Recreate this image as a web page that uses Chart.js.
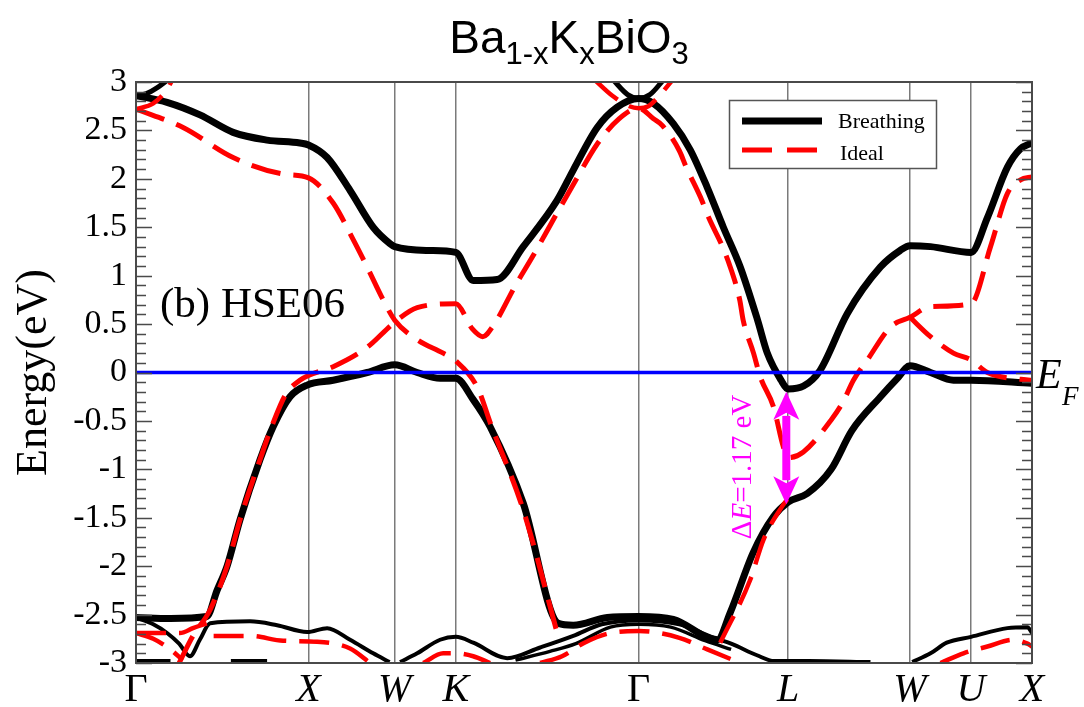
<!DOCTYPE html>
<html>
<head>
<meta charset="utf-8">
<script src="https://cdn.jsdelivr.net/npm/chart.js@4.4.1/dist/chart.umd.min.js"></script>
<style>
  html, body { margin: 0; padding: 0; background: #fff; }
  #wrap { width: 1084px; height: 707px; }
</style>
</head>
<body>
<div id="wrap"><canvas id="bands" width="1084" height="707"></canvas></div>
<script>
// ─── Path & axis labels ───────────────────────────────
const kPoints = [0, 1, 1.5, 1.8536, 2.9142, 3.7802, 4.4873, 4.8409, 5.1944];
const kLabels = ["Γ", "X", "W", "K", "Γ", "L", "W", "U", "X"];
const energyTicks = [-3, -2.5, -2, -1.5, -1, -0.5, 0, 0.5, 1, 1.5, 2, 2.5, 3];
const energyLabels = ["-3", "-2.5", "-2", "-1.5", "-1", "-0.5", "0", "0.5", "1", "1.5", "2", "2.5", "3"];

// ─── Breathing bands [k, E] ───────────────────────────
const breathingCond = [[0,2.86],[0.18,2.79],[0.371,2.66],[0.563,2.48],[0.76,2.40],[0.95,2.37],[1.0,2.35],[1.108,2.22],[1.241,1.88],[1.375,1.5],[1.473,1.33],[1.5,1.30],[1.7,1.26],[1.854,1.24],[1.955,0.95],[2.094,0.96],[2.245,1.3],[2.442,1.78],[2.535,2.09],[2.674,2.53],[2.79,2.74],[2.914,2.83],[2.999,2.78],[3.115,2.57],[3.213,2.3],[3.312,1.91],[3.405,1.5],[3.503,1.09],[3.602,0.55],[3.66,0.2],[3.74,-0.08],[3.78,-0.17],[3.87,-0.14],[3.965,0.02],[4.124,0.61],[4.316,1.09],[4.43,1.26],[4.487,1.31],[4.606,1.30],[4.841,1.24],[4.936,1.60],[5.052,2.12],[5.128,2.31],[5.194,2.37]];
const breathingTop = [[0,-2.53],[0.2,-2.54],[0.41,-2.52],[0.47,-2.25],[0.528,-2.0],[0.603,-1.52],[0.719,-0.9],[0.795,-0.56],[0.893,-0.25],[0.992,-0.13],[1.143,-0.08],[1.34,0.0],[1.5,0.08],[1.63,0.0],[1.763,-0.06],[1.854,-0.06],[1.955,-0.28],[2.053,-0.56],[2.245,-1.35],[2.448,-2.59],[2.535,-2.61],[2.732,-2.53],[2.914,-2.52],[3.115,-2.55],[3.37,-2.76],[3.445,-2.48],[3.578,-1.86],[3.695,-1.49],[3.78,-1.34],[3.892,-1.25],[4.03,-1.0],[4.15,-0.6],[4.316,-0.25],[4.414,-0.06],[4.487,0.07],[4.606,0.0],[4.739,-0.08],[4.841,-0.08],[5.194,-0.11]];
const breathingUp1 = [[0,2.86],[0.06,2.88],[0.13,2.95],[0.19,3.03]];
const breathingUp2 = [[2.767,3.02],[2.85,2.87],[2.914,2.83],[2.98,2.87],[3.057,3.02]];
const breathingLow1 = [[0,-2.53],[0.1,-2.6],[0.18,-2.69],[0.25,-2.8],[0.313,-2.93],[0.37,-2.76],[0.43,-2.59],[0.661,-2.57],[0.818,-2.61],[0.992,-2.68],[1.108,-2.64],[1.241,-2.76],[1.375,-2.9],[1.47,-2.99]];
const breathingLow2 = [[1.531,-2.99],[1.63,-2.9],[1.763,-2.76],[1.854,-2.73],[1.955,-2.79],[2.152,-2.95],[2.343,-2.84],[2.535,-2.72],[2.7,-2.6],[2.914,-2.56],[3.15,-2.6],[3.35,-2.74],[3.45,-2.8],[3.6,-2.92],[3.7,-2.98],[3.9,-2.98],[4.258,-2.99]];
const breathingLow3 = [[2.2,-2.97],[2.4,-2.88],[2.55,-2.8],[2.75,-2.63],[2.914,-2.6],[3.1,-2.63],[3.3,-2.77],[3.45,-2.86]];
const breathingLow4 = [[4.5,-2.99],[4.606,-2.9],[4.7,-2.79],[4.841,-2.73],[5.052,-2.64],[5.168,-2.63],[5.194,-2.69]];
const breathingFloor1 = [[0,-2.98],[0.2,-2.98]];
const breathingFloor2 = [[0.55,-2.98],[0.76,-2.98]];

// ─── Ideal bands [k, E] ───────────────────────────────
const idealCond = [[0,2.72],[0.273,2.53],[0.563,2.22],[0.853,2.05],[1.0,2.01],[1.143,1.75],[1.26,1.37],[1.34,1.09],[1.433,0.75],[1.5,0.54],[1.63,0.34],[1.781,0.2],[1.854,0.12],[1.978,-0.15],[2.06,-0.55],[2.245,-1.42],[2.448,-2.73]];
const idealBand = [[0.25,-3.0],[0.33,-2.72],[0.43,-2.45],[0.528,-2.0],[0.603,-1.52],[0.719,-0.9],[0.795,-0.52],[0.87,-0.22],[0.95,-0.08],[1.0,-0.03],[1.143,0.06],[1.34,0.26],[1.5,0.52],[1.63,0.67],[1.854,0.71],[1.95,0.45],[2.01,0.37],[2.07,0.48],[2.2,0.9],[2.3,1.2],[2.442,1.65],[2.56,2.02],[2.67,2.35],[2.8,2.62],[2.914,2.73],[3.0,2.62],[3.052,2.55],[3.15,2.29],[3.19,2.12],[3.28,1.78],[3.32,1.6],[3.4,1.3],[3.445,1.09],[3.5,0.75],[3.52,0.54],[3.58,0.2],[3.62,-0.05],[3.695,-0.35],[3.753,-0.77],[3.78,-0.88],[3.869,-0.82],[4.03,-0.49],[4.1,-0.3],[4.159,-0.08],[4.24,0.13],[4.374,0.47],[4.487,0.57],[4.606,0.68],[4.841,0.71],[4.954,1.3],[5.052,1.85],[5.128,1.99],[5.194,2.02]];
const idealW = [[4.487,0.57],[4.606,0.37],[4.739,0.2],[4.841,0.13],[4.936,0.0],[5.128,-0.07],[5.194,-0.08]];
const idealRise = [[3.387,-2.79],[3.561,-2.14],[3.637,-1.73],[3.747,-1.38],[3.78,-1.3]];
const idealHump = [[2.343,-3.0],[2.47,-2.93],[2.6,-2.79],[2.75,-2.69],[2.914,-2.67],[3.15,-2.74],[3.312,-2.86],[3.503,-3.0]];
const idealUp1 = [[0,2.72],[0.1,2.78],[0.17,2.9],[0.22,3.05]];
const idealUp2 = [[2.66,3.02],[2.76,2.86],[2.86,2.75],[2.914,2.73],[2.97,2.75],[3.03,2.85],[3.11,3.02]];
const idealLow1 = [[0,-2.69],[0.15,-2.69],[0.255,-2.69],[0.33,-2.64],[0.41,-2.59]];
const idealLow2 = [[0,-2.69],[0.1,-2.75],[0.2,-2.86],[0.27,-2.97]];
const idealLow3 = [[0.45,-2.72],[0.66,-2.72],[0.853,-2.77],[1.05,-2.78],[1.241,-2.85],[1.357,-3.0]];
const idealLow4 = [[1.665,-3.0],[1.781,-2.9],[1.854,-2.9],[1.955,-2.93],[2.053,-3.0]];
const idealLow5 = [[4.664,-3.0],[4.797,-2.9],[4.936,-2.83],[5.087,-2.76],[5.168,-2.8],[5.194,-2.83]];

// ─── Fermi level & gap marker ─────────────────────────
const fermiLevel = [[0,0],[5.1944,0]];
const gapK = 3.77;
const gapTop = -0.2;
const gapBottom = -1.36;
const gapLabel = "=1.17 eV";

const SERIF = "'Liberation Serif', 'Times New Roman', serif";
const SANS = "'Liberation Sans', Arial, sans-serif";

function band(points, color, width, dashed) {
  return {
    data: points.map(p => ({ x: p[0], y: p[1] })),
    showLine: true,
    borderColor: color,
    borderWidth: width,
    borderDash: dashed ? [30, 13] : [],
    borderCapStyle: "butt",
    pointRadius: 0,
    fill: false,
    cubicInterpolationMode: "monotone",
  };
}

// first dataset ends up on top
const datasets = [
  band(fermiLevel, "#0000ff", 3.5, false),
  band(idealCond, "#ff0000", 5, true),
  band(idealBand, "#ff0000", 5, true),
  band(idealW, "#ff0000", 5, true),
  band(idealRise, "#ff0000", 4.5, true),
  band(idealHump, "#ff0000", 4.5, true),
  band(idealUp1, "#ff0000", 4.5, true),
  band(idealUp2, "#ff0000", 4.5, true),
  band(idealLow1, "#ff0000", 4.5, true),
  band(idealLow2, "#ff0000", 4.5, true),
  band(idealLow3, "#ff0000", 4.5, true),
  band(idealLow4, "#ff0000", 4.5, true),
  band(idealLow5, "#ff0000", 4.5, true),
  band(breathingCond, "#000", 7, false),
  band(breathingTop, "#000", 7, false),
  band(breathingUp1, "#000", 5, false),
  band(breathingUp2, "#000", 5, false),
  band(breathingLow1, "#000", 4, false),
  band(breathingLow2, "#000", 4, false),
  band(breathingLow3, "#000", 3.5, false),
  band(breathingLow4, "#000", 4, false),
  band(breathingFloor1, "#000", 4, false),
  band(breathingFloor2, "#000", 4, false),
];

// ─── Extras: frame, inward ticks, legend, labels ──────
const decorations = {
  id: "decorations",
  afterDatasetsDraw(chart) {
    const { ctx, chartArea: a, scales } = chart;
    const y = scales.y;
    const x = scales.x;
    ctx.save();

    // frame + inward minor/major ticks on both sides
    ctx.strokeStyle = "#4a4a4a";
    ctx.lineWidth = 1.6;
    ctx.beginPath();
    for (let i = -30; i <= 30; i++) {
      const py = Math.round(y.getPixelForValue(i / 10)) + 0.5;
      const len = i % 5 === 0 ? 16 : 10;
      ctx.moveTo(a.left, py); ctx.lineTo(a.left + len, py);
      ctx.moveTo(a.right, py); ctx.lineTo(a.right - len, py);
    }
    ctx.stroke();
    ctx.lineWidth = 2;
    ctx.strokeRect(a.left, a.top, a.right - a.left, a.bottom - a.top);

    // gap arrow
    const ax = x.getPixelForValue(gapK);
    const y1 = y.getPixelForValue(gapTop);
    const y2 = y.getPixelForValue(gapBottom);
    const headH = 28, headW = 13;
    ctx.fillStyle = "#ff00ff";
    ctx.strokeStyle = "#ff00ff";
    ctx.lineWidth = 8;
    ctx.beginPath();
    ctx.moveTo(ax, y1 + headH - 4); ctx.lineTo(ax, y2 - headH + 4);
    ctx.stroke();
    ctx.beginPath();
    ctx.moveTo(ax, y1); ctx.lineTo(ax + headW, y1 + headH); ctx.lineTo(ax, y1 + headH - 7); ctx.lineTo(ax - headW, y1 + headH);
    ctx.closePath(); ctx.fill();
    ctx.beginPath();
    ctx.moveTo(ax, y2); ctx.lineTo(ax + headW, y2 - headH); ctx.lineTo(ax, y2 - headH + 7); ctx.lineTo(ax - headW, y2 - headH);
    ctx.closePath(); ctx.fill();

    // ΔE label, rotated
    ctx.save();
    ctx.translate(ax - 35, y2 + 35);
    ctx.rotate(-Math.PI / 2);
    ctx.textBaseline = "alphabetic";
    ctx.textAlign = "left";
    let tx = 0;
    ctx.font = "29px " + SERIF;
    ctx.fillText("Δ", tx, 0); tx += ctx.measureText("Δ").width;
    ctx.font = "italic 29px " + SERIF;
    ctx.fillText("E", tx, 0); tx += ctx.measureText("E").width;
    ctx.font = "29px " + SERIF;
    ctx.fillText(gapLabel, tx, 0);
    ctx.restore();

    // legend
    ctx.fillStyle = "#fff";
    ctx.fillRect(729, 100, 207, 68);
    ctx.strokeStyle = "#555";
    ctx.lineWidth = 1.5;
    ctx.strokeRect(729.5, 100.5, 207, 68);
    ctx.lineWidth = 7;
    ctx.strokeStyle = "#000";
    ctx.beginPath(); ctx.moveTo(742, 121); ctx.lineTo(822, 121); ctx.stroke();
    ctx.strokeStyle = "#ff0000";
    ctx.lineWidth = 5;
    ctx.setLineDash([30, 15]);
    ctx.beginPath(); ctx.moveTo(742, 150); ctx.lineTo(822, 150); ctx.stroke();
    ctx.setLineDash([]);
    ctx.fillStyle = "#000";
    ctx.font = "22px " + SERIF;
    ctx.textAlign = "left";
    ctx.textBaseline = "alphabetic";
    ctx.fillText("Breathing", 838, 128);
    ctx.fillText("Ideal", 840, 160);

    // panel tag
    ctx.font = "43px " + SERIF;
    ctx.fillText("(b) HSE06", 160, 317);

    // E_F
    ctx.font = "italic 42px " + SERIF;
    ctx.fillText("E", 1036, 388);
    ctx.font = "italic 27px " + SERIF;
    ctx.fillText("F", 1062, 405);

    // title with subscripts
    const parts = [["Ba", 0], ["1-x", 1], ["K", 0], ["x", 1], ["BiO", 0], ["3", 1]];
    const mainFont = "46px " + SANS, subFont = "31px " + SANS;
    let total = 0;
    parts.forEach(p => { ctx.font = p[1] ? subFont : mainFont; total += ctx.measureText(p[0]).width; });
    let px = 569 - total / 2;
    parts.forEach(p => {
      ctx.font = p[1] ? subFont : mainFont;
      ctx.fillText(p[0], px, 53 + (p[1] ? 11 : 0));
      px += ctx.measureText(p[0]).width;
    });

    ctx.restore();
  },
};

new Chart(document.getElementById("bands"), {
  type: "scatter",
  data: { datasets },
  options: {
    responsive: false,
    animation: false,
    devicePixelRatio: 1,
    layout: { padding: { top: 82, right: 52, left: 0, bottom: 0 } },
    plugins: { legend: { display: false }, tooltip: { enabled: false } },
    scales: {
      x: {
        type: "linear",
        min: 0,
        max: 5.1944,
        afterFit: s => { s.height = 44; },
        afterBuildTicks: s => { s.ticks = kPoints.map(v => ({ value: v })); },
        grid: { color: "#7a7a7a", lineWidth: 1.5, drawTicks: false },
        border: { display: false },
        ticks: {
          autoSkip: false,
          maxRotation: 0,
          padding: 3,
          color: "#000",
          callback: (v, i) => kLabels[i],
          font: c => ({ family: SERIF, size: 40, style: kLabels[c.index] === "Γ" ? "normal" : "italic" }),
        },
      },
      y: {
        min: -3,
        max: 3,
        afterFit: s => { s.width = 136; },
        afterBuildTicks: s => { s.ticks = energyTicks.map(v => ({ value: v })); },
        grid: { display: false, drawTicks: false },
        border: { display: false },
        ticks: {
          padding: 9,
          color: "#000",
          font: { family: SERIF, size: 34 },
          callback: (v, i) => energyLabels[i],
        },
        title: {
          display: true,
          text: "Energy(eV)",
          color: "#000",
          font: { family: SERIF, size: 44 },
          padding: { top: 8, bottom: 0 },
        },
      },
    },
  },
  plugins: [decorations],
});
</script>
</body>
</html>
